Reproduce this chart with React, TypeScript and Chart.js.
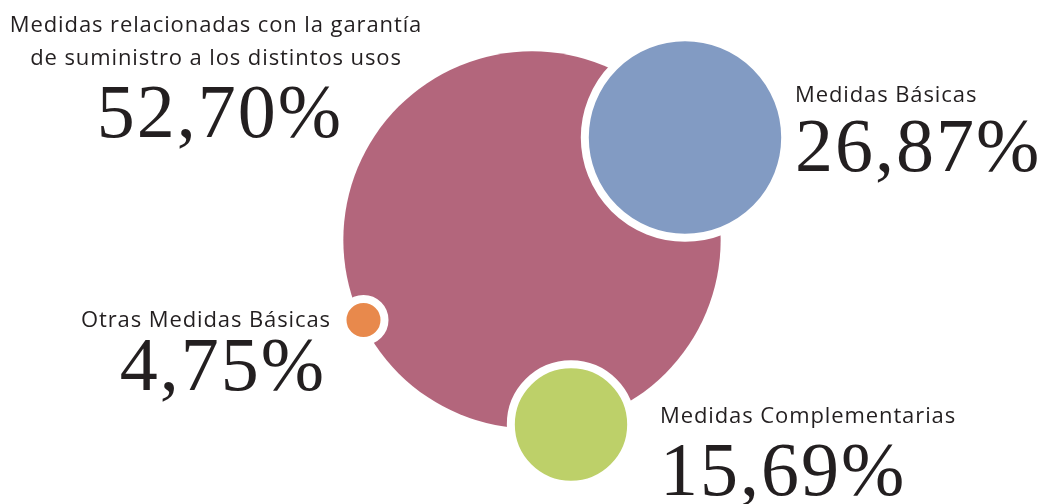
import React, { useEffect, useRef } from "react";
import { Chart, registerables } from "chart.js";

Chart.register(...registerables);

// ---- data ----
const categories = [
  "Medidas relacionadas con la garantía de suministro a los distintos usos",
  "Medidas Básicas",
  "Otras Medidas Básicas",
  "Medidas Complementarias",
];
const values = [52.7, 26.87, 4.75, 15.69];
const labelLines = [
  ["Medidas relacionadas con la garantía", "de suministro a los distintos usos"],
  ["Medidas Básicas"],
  ["Otras Medidas Básicas"],
  ["Medidas Complementarias"],
];
const colors = ["#b3667c", "#829bc3", "#e8894c", "#bdd069"];
// bubble centres in chart units (x: 0..1050, y: 0..504 top-down)
const centerX = [532, 685, 363.5, 571];
const centerY = [240, 137.5, 320, 424.5];

// ---- layout / style ----
const RADIUS_PER_PERCENT = 3.58;
const HALO = 8;
const TEXT_COLOR = "#231f20";
type Lbl = { x: number; lineY: number[]; numY: number; align: CanvasTextAlign; numX: number };
const labelLayout: Lbl[] = [
  { x: 216, lineY: [32, 65], numY: 137, align: "center", numX: 220 },
  { x: 795, lineY: [102], numY: 171, align: "left", numX: 795 },
  { x: 331, lineY: [327], numY: 390, align: "right", numX: 326 },
  { x: 660, lineY: [423], numY: 495, align: "left", numX: 660 },
];

const fmt = (v: number) => v.toFixed(2).replace(".", ",") + "%";

const labelPlugin = {
  id: "bubbleLabels",
  afterDatasetsDraw(chart: any) {
    const ctx = chart.ctx as CanvasRenderingContext2D;
    ctx.save();
    ctx.fillStyle = TEXT_COLOR;
    ctx.textBaseline = "alphabetic";
    values.forEach((v, i) => {
      const L = labelLayout[i];
      ctx.textAlign = L.align;
      ctx.font = '400 22px "Open Sans"';
      (ctx as any).letterSpacing = "0.9px";
      labelLines[i].forEach((line, j) => {
        ctx.fillText(line, L.x, L.lineY[j]);
      });
      ctx.font = '400 76px "Liberation Serif"';
      (ctx as any).letterSpacing = "2px";
      ctx.fillText(fmt(v), L.numX, L.numY);
    });
    ctx.restore();
  },
};

export default function App() {
  const ref = useRef<HTMLCanvasElement | null>(null);
  useEffect(() => {
    if (!ref.current) return;
    const chart = new Chart(ref.current, {
      type: "bubble",
      data: {
        labels: categories,
        datasets: [
          {
            label: "Medidas",
            data: values.map((v, i) => ({
              x: centerX[i],
              y: centerY[i],
              r: v * RADIUS_PER_PERCENT + (i === 0 ? 0 : HALO / 2),
            })),
            backgroundColor: colors,
            borderColor: "#ffffff",
            borderWidth: values.map((_, i) => (i === 0 ? 0 : HALO)),
            hoverRadius: 0,
            clip: false as any,
          },
        ],
      },
      options: {
        animation: false,
        responsive: true,
        maintainAspectRatio: false,
        layout: { padding: 0, autoPadding: false } as any,
        events: [],
        scales: {
          x: { type: "linear", min: 0, max: 1050, display: false },
          y: { type: "linear", min: 0, max: 504, reverse: true, display: false },
        },
        plugins: {
          legend: { display: false },
          tooltip: { enabled: false },
        },
      },
      plugins: [labelPlugin],
    });
    return () => chart.destroy();
  }, []);
  return (
    <div style={{ position: "fixed", left: 0, top: 0, width: 1050, height: 504, background: "#ffffff" }}>
      <canvas ref={ref} />
    </div>
  );
}
